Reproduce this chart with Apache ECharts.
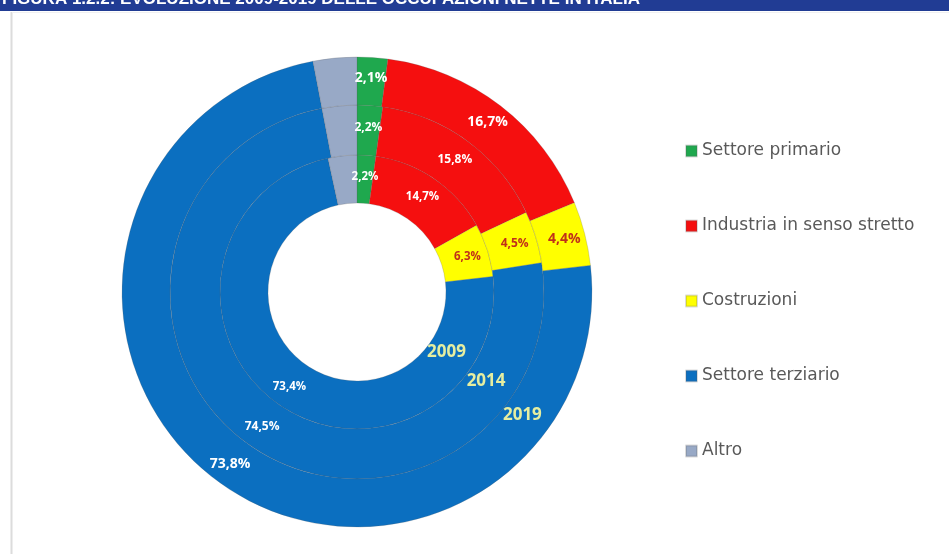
<!DOCTYPE html>
<html><head><meta charset="utf-8">
<script src="https://cdn.jsdelivr.net/npm/echarts@6/dist/echarts.min.js"></script>
<style>html,body{margin:0;padding:0;background:#fff}#c{width:949px;height:554px}</style>
</head><body><div id="c"></div>
<script>
const categories = ['Settore primario','Industria in senso stretto','Costruzioni','Settore terziario','Altro'];
const years = ['2009','2014','2019'];
const values2009 = [2.2, 14.7, 6.3, 73.4, 3.4];
const values2014 = [2.2, 15.8, 4.5, 74.5, 3.0];
const values2019 = [2.1, 16.7, 4.4, 73.8, 3.0];
const colors = ['#1fa84e','#f50f0f','#ffff00','#0b6fc0','#98a9c6'];
const titleText = 'FIGURA 1.2.2: EVOLUZIONE 2009-2019 DELLE OCCUPAZIONI NETTE IN ITALIA';

const cx = 357, cy = 292;
const radii = [[89,137],[137,187],[187,235]];
const fontSizes = [11.5, 12, 14];
const allValues = [values2009, values2014, values2019];

function fmt(v){ return v.toFixed(1).replace('.', ','); }

const series = allValues.map((vals, i) => ({
  type: 'pie',
  name: years[i],
  center: [cx, cy],
  radius: radii[i],
  startAngle: 90,
  clockwise: true,
  silent: true,
  avoidLabelOverlap: false,
  itemStyle: { borderColor: 'rgba(90,90,90,0.22)', borderWidth: 1 },
  label: {
    show: true, position: 'inside', fontFamily: 'Open Sans', fontWeight: 'bold',
    fontSize: fontSizes[i], color: '#ffffff',
    formatter: p => p.name === 'Altro' ? '' : fmt(p.value) + '%'
  },
  labelLine: { show: false },
  data: categories.map((c, j) => ({
    name: c, value: vals[j],
    itemStyle: { color: colors[j] },
    label: c === 'Costruzioni' ? { color: '#c0301a' } : {}
  }))
}));

// year labels placed along the right-lower side of each ring
const yearAngles = [34, 34.7, 36.6];
const yearGraphics = years.map((y, i) => {
  const r = (radii[i][0] + radii[i][1]) / 2 - 5;
  const a = yearAngles[i] * Math.PI / 180;
  return {
    type: 'text',
    x: cx + r * Math.cos(a), y: cy + r * Math.sin(a),
    style: { text: y, fill: '#e6eea0', font: 'bold 17px "Open Sans"', align: 'center', verticalAlign: 'middle' },
    z: 100
  };
});

const chart = echarts.init(document.getElementById('c'));
chart.setOption({
  backgroundColor: '#ffffff',
  animation: false,
  color: colors,
  legend: {
    orient: 'vertical', left: 680, top: 136,
    itemWidth: 11, itemHeight: 11, itemGap: 55,
    icon: 'rect',
    data: categories,
    textStyle: { fontFamily: 'DejaVu Sans', fontSize: 17, color: '#595959', lineHeight: 20 }
  },
  graphic: [
    { type: 'rect', shape: { x: 0, y: 0, width: 949, height: 11 }, style: { fill: '#213c94' }, z: 50 },
    { type: 'text', x: 2, y: -9, style: { text: titleText, fill: '#ffffff', font: 'bold 17px "Liberation Sans"' }, z: 51 },
    { type: 'rect', shape: { x: 0, y: 11, width: 949, height: 4 }, style: { fill: '#ffffff' }, z: 52 },
    { type: 'line', shape: { x1: 11.5, y1: 12, x2: 11.5, y2: 554 }, style: { stroke: '#dcdcdc', lineWidth: 2 }, z: 52 },
    { type: 'line', shape: { x1: 12, y1: 12.5, x2: 949, y2: 12.5 }, style: { stroke: '#f0f0f0', lineWidth: 1 }, z: 52 }
  ].concat(yearGraphics),
  series: series
});
</script></body></html>
